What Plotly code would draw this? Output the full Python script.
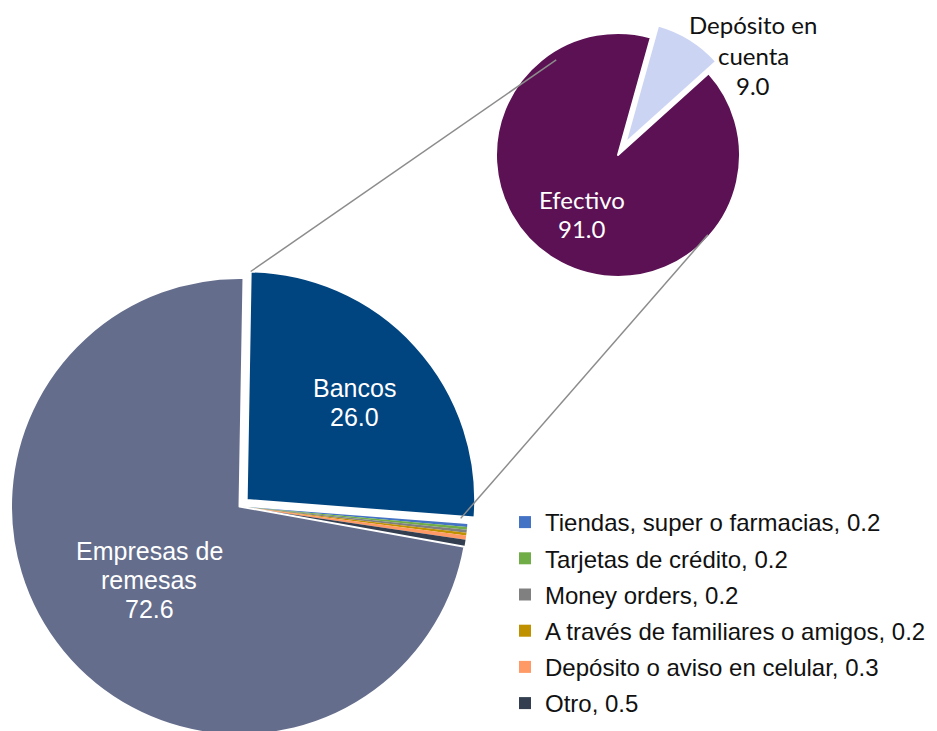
import math
import plotly.graph_objects as go

# ---------------- data ----------------
main_labels = ["Bancos", "Tiendas, super o farmacias", "Tarjetas de crédito", "Money orders",
               "A través de familiares o amigos", "Depósito o aviso en celular", "Otro",
               "Empresas de remesas"]
main_values = [26.0, 0.2, 0.2, 0.2, 0.2, 0.3, 0.5, 72.6]
main_colors = ["#004480", "#4472C4", "#70AD47", "#808080", "#BF9000", "#FF9A66", "#333F50", "#646D8C"]
legend_labels = main_labels[1:7]

sub_labels = ["Depósito en cuenta", "Efectivo"]
sub_values = [9.0, 91.0]
sub_colors = ["#CCD4F4", "#5B1153"]

label_lines = {
    "Bancos": ["Bancos"],
    "Empresas de remesas": ["Empresas de", "remesas"],
    "Efectivo": ["Efectivo"],
    "Depósito en cuenta": ["Depósito en", "cuenta"],
}

# ---------------- geometry / style (page pixel coordinates) ----------------
W, H = 937, 731
OFF = 8  # default <body> margin of the written html page
MAIN_CX, MAIN_CY, MAIN_R, MAIN_ROT = 239.5, 506.5, 228.5, 1.0
EXPLODE_PX = 9.7
SUB_CX, SUB_CY, SUB_R, SUB_ROT, SUB_PULL = 618.0, 155.0, 122.0, 15.6, 0.115
TRANSPARENT = "rgba(0,0,0,0)"


def to_paper(x, y):
    return (x - OFF) / W, 1 - (y - OFF) / H


def domain(cx, cy, half):
    x0, y1 = to_paper(cx - half, cy - half)
    x1, y0 = to_paper(cx + half, cy + half)
    return dict(x=[max(0.0, x0), min(1.0, x1)], y=[max(0.0, y0), min(1.0, y1)])


def polar(cx, cy, r, ang):
    a = math.radians(ang)
    return cx + r * math.sin(a), cy - r * math.cos(a)


def slice_angles(values, rot):
    tot = sum(values)
    out, cum = [], 0.0
    for v in values:
        a0 = rot + 360 * cum / tot
        cum += v
        out.append((a0, rot + 360 * cum / tot))
    return out


main_ang = slice_angles(main_values, MAIN_ROT)
sub_ang = slice_angles(sub_values, SUB_ROT)

ib = main_labels.index("Bancos")
b0, b1 = main_ang[ib]
bmid = (b0 + b1) / 2
bcx, bcy = polar(MAIN_CX, MAIN_CY, EXPLODE_PX, bmid)  # exploded apex of Bancos

fig = go.Figure()

# main pie without Bancos
fig.add_trace(go.Pie(
    labels=main_labels, values=main_values, sort=False, direction="clockwise",
    rotation=MAIN_ROT, textinfo="none", showlegend=False,
    marker=dict(colors=[TRANSPARENT if l == "Bancos" else c for l, c in zip(main_labels, main_colors)],
                line=dict(color="white",
                          width=[2 if l == "Empresas de remesas" else 0 for l in main_labels])),
    domain=domain(MAIN_CX, MAIN_CY, MAIN_R),
))
# exploded Bancos slice
fig.add_trace(go.Pie(
    labels=main_labels, values=main_values, sort=False, direction="clockwise",
    rotation=MAIN_ROT, textinfo="none", showlegend=False,
    marker=dict(colors=[c if l == "Bancos" else TRANSPARENT for l, c in zip(main_labels, main_colors)],
                line=dict(color="white", width=[2 if l == "Bancos" else 0 for l in main_labels])),
    domain=domain(bcx, bcy, MAIN_R),
))
# secondary pie (breakdown of Bancos)
fig.add_trace(go.Pie(
    labels=sub_labels, values=sub_values, sort=False, direction="clockwise",
    rotation=SUB_ROT, textinfo="none", showlegend=False,
    pull=[SUB_PULL if l == "Depósito en cuenta" else 0 for l in sub_labels],
    marker=dict(colors=sub_colors, line=dict(color="white", width=2)),
    domain=domain(SUB_CX, SUB_CY, SUB_R * (1 + SUB_PULL)),
))

# legend entries for the small categories
for lab in legend_labels:
    i = main_labels.index(lab)
    fig.add_trace(go.Scatter(
        x=[None], y=[None], mode="markers", name=f"{lab}, {main_values[i]:.1f}",
        legendgroup=lab,
        marker=dict(symbol="square", size=12, color=main_colors[i]),
    ))

# connector lines
ls_x, ls_y = polar(bcx, bcy, MAIN_R, b0)
le_x, le_y = polar(bcx, bcy, MAIN_R * 0.94, b1 + 0.5)
s1x, s1y = polar(SUB_CX, SUB_CY, SUB_R * 0.93, 327)
s2x, s2y = polar(SUB_CX, SUB_CY, SUB_R * 0.985, 131.6)
shapes = []
for (xa, ya), (xb, yb) in [((ls_x, ls_y), (s1x, s1y)), ((le_x, le_y), (s2x, s2y))]:
    pa, pb = to_paper(xa, ya), to_paper(xb, yb)
    shapes.append(dict(type="line", xref="paper", yref="paper", x0=pa[0], y0=pa[1], x1=pb[0], y1=pb[1],
                       line=dict(color="#8C8C8C", width=1.5)))

# labels
annotations = []
arial = "Liberation Sans, Arial, sans-serif"
calib = "Lato, Carlito, Calibri, sans-serif"


def add_label(cx, cy, lines, font, spacing):
    n = len(lines)
    for k, t in enumerate(lines):
        y = cy + (k - (n - 1) / 2) * spacing
        px, py = to_paper(cx, y)
        annotations.append(dict(x=px, y=py, xref="paper", yref="paper", text=t, showarrow=False,
                                xanchor="center", yanchor="middle", font=font))


vb = main_values[ib]
x, y = polar(bcx, bcy, MAIN_R * 0.635, bmid)
add_label(x, y, label_lines["Bancos"] + [f"{vb:.1f}"], dict(family=arial, size=25, color="white"), 29)

ir = main_labels.index("Empresas de remesas")
x, y = polar(MAIN_CX, MAIN_CY, MAIN_R * 0.51, sum(main_ang[ir]) / 2)
add_label(x, y, label_lines["Empresas de remesas"] + [f"{main_values[ir]:.1f}"],
          dict(family=arial, size=25, color="white"), 29)

ie = sub_labels.index("Efectivo")
x, y = polar(SUB_CX, SUB_CY, SUB_R * 0.565, sum(sub_ang[ie]) / 2)
add_label(x, y, label_lines["Efectivo"] + [f"{sub_values[ie]:.1f}"],
          dict(family=calib, size=24, color="white"), 29)

idp = sub_labels.index("Depósito en cuenta")
x, y = polar(SUB_CX, SUB_CY, SUB_R * 1.377, 53.5)
add_label(x, y, label_lines["Depósito en cuenta"] + [f"{sub_values[idp]:.1f}"],
          dict(family=calib, size=24, color="#111111"), 30.5)

lgx, lgy = to_paper(505, 500)
fig.update_layout(
    width=W, height=H, margin=dict(l=0, r=0, t=0, b=0, autoexpand=False),
    paper_bgcolor="white", plot_bgcolor="rgba(0,0,0,0)",
    xaxis=dict(visible=False), yaxis=dict(visible=False),
    shapes=shapes, annotations=annotations,
    legend=dict(x=lgx, xanchor="left", y=lgy, yanchor="top",
                font=dict(family=arial, size=24, color="#111111"),
                bgcolor="rgba(0,0,0,0)", tracegroupgap=2),
)

fig.write_html("out.html")
